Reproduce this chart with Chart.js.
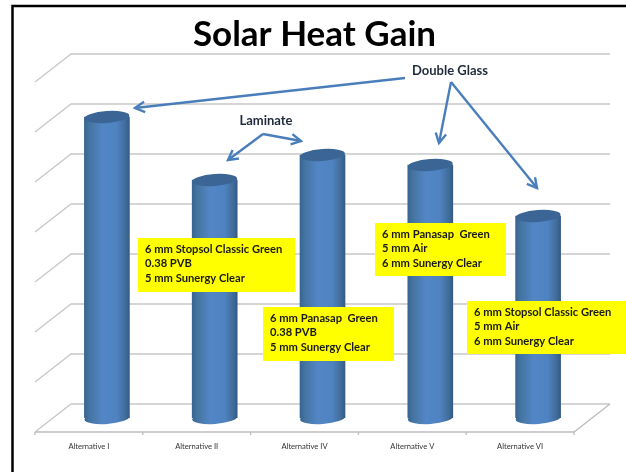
<!DOCTYPE html>
<html lang="en">
<head>
  <meta charset="UTF-8" />
  <title>Solar Heat Gain</title>
  <style>
    body, html { margin: 0; padding: 0; background: white; overflow: hidden; }
    #wrap { position: relative; width: 626px; height: 472px; }
  </style>
  <script src="https://cdn.jsdelivr.net/npm/chart.js"></script>
</head>
<body>
<div id="wrap"><canvas id="solar"></canvas></div>
<script>
  const categories = ['Alternative I', 'Alternative II', 'Alternative IV', 'Alternative V', 'Alternative VI'];
  const heatGain = [6.02, 4.76, 5.26, 5.06, 4.04];
  const gridValues = [0, 1, 2, 3, 4, 5, 6, 7];

  const labelDoubleGlass = 'Double Glass';
  const labelLaminate = 'Laminate';
  const glazingII = ['6 mm Stopsol Classic Green', '0.38 PVB', '5 mm Sunergy Clear'];
  const glazingIV = ['6 mm Panasap  Green', '0.38 PVB', '5 mm Sunergy Clear'];
  const glazingV = ['6 mm Panasap  Green', '5 mm Air', '6 mm Sunergy Clear'];
  const glazingVI = ['6 mm Stopsol Classic Green', '5 mm Air', '6 mm Sunergy Clear'];

  const DEPTH_X = 18, DEPTH_Y = 14;   // half the depth of the 3d floor
  const BLUE = '#4a7ebb';

  function cylinderFill(ctx, cx, half) {
    const g = ctx.createLinearGradient(cx - half, 0, cx + half, 0);
    g.addColorStop(0, '#386592');
    g.addColorStop(0.1, '#44739f');
    g.addColorStop(0.4, '#5386c6');
    g.addColorStop(0.72, '#4f82c0');
    g.addColorStop(0.92, '#3f6b98');
    g.addColorStop(1, '#335a84');
    return g;
  }

  // back wall, side wall and floor of the 3d box
  const wallsPlugin = {
    id: 'walls',
    beforeDatasetsDraw(chart) {
      const { ctx, chartArea: a, scales: { y } } = chart;
      ctx.save();
      ctx.lineWidth = 1.3;
      gridValues.forEach(v => {
        const py = y.getPixelForValue(v);
        ctx.strokeStyle = '#c8c8c8';
        ctx.beginPath();
        ctx.moveTo(a.left - DEPTH_X, py + DEPTH_Y);
        ctx.lineTo(a.left + DEPTH_X, py - DEPTH_Y);
        ctx.lineTo(a.right + DEPTH_X, py - DEPTH_Y);
        ctx.stroke();
      });
      const py0 = y.getPixelForValue(0);
      ctx.strokeStyle = '#bdbdbd';
      ctx.beginPath();
      ctx.moveTo(a.left - DEPTH_X, py0 + DEPTH_Y);
      ctx.lineTo(a.right - DEPTH_X, py0 + DEPTH_Y);
      ctx.lineTo(a.right + DEPTH_X, py0 - DEPTH_Y);
      ctx.stroke();
      // tick marks under the floor edge
      const step = (a.right - a.left) / categories.length;
      for (let i = 0; i <= categories.length; i++) {
        const tx = a.left - DEPTH_X + i * step;
        ctx.beginPath();
        ctx.moveTo(tx, py0 + DEPTH_Y);
        ctx.lineTo(tx, py0 + DEPTH_Y + 3);
        ctx.stroke();
      }
      ctx.restore();
    }
  };

  // round caps of the cylinders
  const capsPlugin = {
    id: 'caps',
    afterDatasetsDraw(chart) {
      const { ctx } = chart;
      chart.getDatasetMeta(0).data.forEach(bar => {
        const half = bar.width / 2;
        ctx.save();
        ctx.fillStyle = cylinderFill(ctx, bar.x, half);
        ctx.beginPath();
        ctx.ellipse(bar.x, bar.base, half, 6, -0.07, 0, 2 * Math.PI);
        ctx.fill();
        ctx.fillStyle = '#3a6595';
        ctx.beginPath();
        ctx.ellipse(bar.x, bar.y, half, 6, -0.07, 0, 2 * Math.PI);
        ctx.fill();
        ctx.restore();
      });
    }
  };

  function arrow(ctx, pts) {
    ctx.beginPath();
    ctx.moveTo(pts[0][0], pts[0][1]);
    pts.slice(1).forEach(p => ctx.lineTo(p[0], p[1]));
    ctx.stroke();
    const [a, b] = pts.slice(-2);
    const ang = Math.atan2(b[1] - a[1], b[0] - a[0]);
    ctx.beginPath();
    ctx.moveTo(b[0] - 11 * Math.cos(ang - 0.5), b[1] - 11 * Math.sin(ang - 0.5));
    ctx.lineTo(b[0], b[1]);
    ctx.lineTo(b[0] - 11 * Math.cos(ang + 0.5), b[1] - 11 * Math.sin(ang + 0.5));
    ctx.stroke();
  }

  function noteBox(ctx, x, y, w, h, lines) {
    ctx.fillStyle = '#ffff00';
    ctx.fillRect(x, y, w, h);
    ctx.fillStyle = '#1a1a1a';
    ctx.font = '700 11.2px Lato';
    ctx.textBaseline = 'middle';
    ctx.textAlign = 'left';
    lines.forEach((t, i) => ctx.fillText(t, x + 7, y + 11 + i * 14.5));
  }

  const notesPlugin = {
    id: 'notes',
    afterDraw(chart) {
      const { ctx } = chart;
      ctx.save();
      ctx.strokeStyle = BLUE;
      ctx.lineWidth = 2.4;
      arrow(ctx, [[405, 78], [135, 108]]);
      arrow(ctx, [[263, 134], [228, 160]]);
      arrow(ctx, [[263, 134], [301, 141]]);
      arrow(ctx, [[451, 82], [439, 143]]);
      arrow(ctx, [[451, 82], [537, 188]]);

      ctx.fillStyle = '#1f2a3a';
      ctx.font = '700 13px Lato';
      ctx.textAlign = 'center';
      ctx.textBaseline = 'middle';
      ctx.fillText(labelDoubleGlass, 450, 71);
      ctx.fillText(labelLaminate, 266, 121);

      noteBox(ctx, 138, 238, 157, 54, glazingII);
      noteBox(ctx, 263, 307, 131, 54, glazingIV);
      noteBox(ctx, 375, 223, 131, 53, glazingV);
      noteBox(ctx, 467, 301, 159, 53, glazingVI);

      // picture frame, open on the right and the bottom
      ctx.strokeStyle = '#000';
      ctx.lineWidth = 2.5;
      ctx.beginPath();
      ctx.moveTo(12.5, 472);
      ctx.lineTo(12.5, 6);
      ctx.lineTo(626, 6);
      ctx.stroke();
      ctx.restore();
    }
  };

  new Chart(document.getElementById('solar'), {
    type: 'bar',
    data: {
      labels: categories,
      datasets: [{
        label: 'Solar Heat Gain',
        data: heatGain,
        barThickness: 45,
        borderWidth: 0,
        backgroundColor(c) {
          const sc = c.chart.scales.x;
          if (!sc || c.dataIndex === undefined) return BLUE;
          const cx = sc.getPixelForValue(c.dataIndex);
          return Number.isFinite(cx) ? cylinderFill(c.chart.ctx, cx, 22.5) : BLUE;
        }
      }]
    },
    options: {
      responsive: true,
      maintainAspectRatio: false,
      animation: false,
      layout: { padding: { left: 3, right: 0, top: 0, bottom: 0 } },
      plugins: {
        legend: { display: false },
        tooltip: { enabled: false },
        title: {
          display: true,
          text: 'Solar Heat Gain',
          color: '#000',
          font: { family: 'Lato', size: 35, weight: '700' },
          padding: { top: 14, bottom: 12 }
        }
      },
      scales: {
        x: {
          grid: { display: false },
          border: { display: false },
          afterFit(s) { s.height = 54; },
          ticks: {
            color: '#333',
            font: { family: 'Lato', size: 7.6 },
            padding: 16,
            labelOffset: -18,
            maxRotation: 0
          }
        },
        y: {
          min: 0,
          max: 7,
          grid: { display: false },
          border: { display: false },
          ticks: { display: false },
          afterFit(s) { s.width = 50; }
        },
        yRight: {
          position: 'right',
          grid: { display: false },
          border: { display: false },
          ticks: { display: false },
          afterFit(s) { s.width = 34; }
        }
      }
    },
    plugins: [wallsPlugin, capsPlugin, notesPlugin]
  });
</script>
</body>
</html>
